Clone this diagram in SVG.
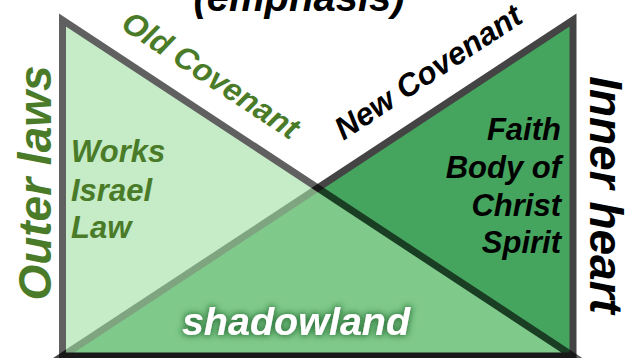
<svg xmlns="http://www.w3.org/2000/svg" width="636" height="358" viewBox="0 0 636 358">
<defs>
<style>
.t{font-family:"Liberation Sans",Arial,sans-serif;font-weight:bold;font-style:italic;}
.g{fill:#4a7b28;}
.k{fill:#000;}
</style>
<filter id="glow" x="-20%" y="-50%" width="140%" height="200%">
<feMorphology in="SourceAlpha" operator="dilate" radius="1" result="d"/>
<feGaussianBlur in="d" stdDeviation="3" result="b"/>
<feFlood flood-color="#1f6a2e" flood-opacity="0.85"/>
<feComposite in2="b" operator="in" result="s"/>
<feMerge><feMergeNode in="s"/><feMergeNode in="SourceGraphic"/></feMerge>
</filter>
</defs>
<rect width="636" height="358" fill="#fff"/>
<g id="connectors">
<g id="new-covenant-triangle">
<polygon points="573,20 573,356 62.5,356" fill="#45a55e" stroke="#444" stroke-width="7" stroke-linejoin="miter"/>
</g>
<g id="old-covenant-triangle" opacity="0.62">
<polygon points="62.5,20 62.5,356 573,356" fill="#a3dfa6" stroke="#000" stroke-width="7" stroke-linejoin="miter"/>
</g>
</g>
<g id="title"><text class="t k" x="299" y="11" font-size="40" text-anchor="middle">(emphasis)</text></g>
<g id="old-covenant"><text class="t g" font-size="31.5" text-anchor="middle" transform="translate(205,84) rotate(33.4)">Old Covenant</text></g>
<g id="new-covenant"><text class="t k" font-size="31.5" text-anchor="middle" transform="translate(434,81) rotate(-33.4)">New Covenant</text></g>
<g id="outer-laws"><text class="t g" font-size="46" text-anchor="middle" transform="translate(51,183) rotate(-90)">Outer laws</text></g>
<g id="inner-heart"><text class="t k" font-size="46" text-anchor="middle" transform="translate(590,195) rotate(90)">Inner heart</text></g>
<g id="works">
<text class="t g" font-size="31" x="71" y="162">Works</text>
<text class="t g" font-size="31" x="71" y="201">Israel</text>
<text class="t g" font-size="31" x="71" y="238">Law</text>
</g>
<g id="faith">
<text class="t k" font-size="31" x="561" y="140" text-anchor="end">Faith</text>
<text class="t k" font-size="31" x="561" y="178" text-anchor="end">Body of</text>
<text class="t k" font-size="31" x="561" y="216" text-anchor="end">Christ</text>
<text class="t k" font-size="31" x="561" y="253" text-anchor="end">Spirit</text>
</g>
<g id="shadowland"><text class="t" fill="#fff" font-size="39.5" x="296" y="335" text-anchor="middle" filter="url(#glow)">shadowland</text></g>
</svg>
